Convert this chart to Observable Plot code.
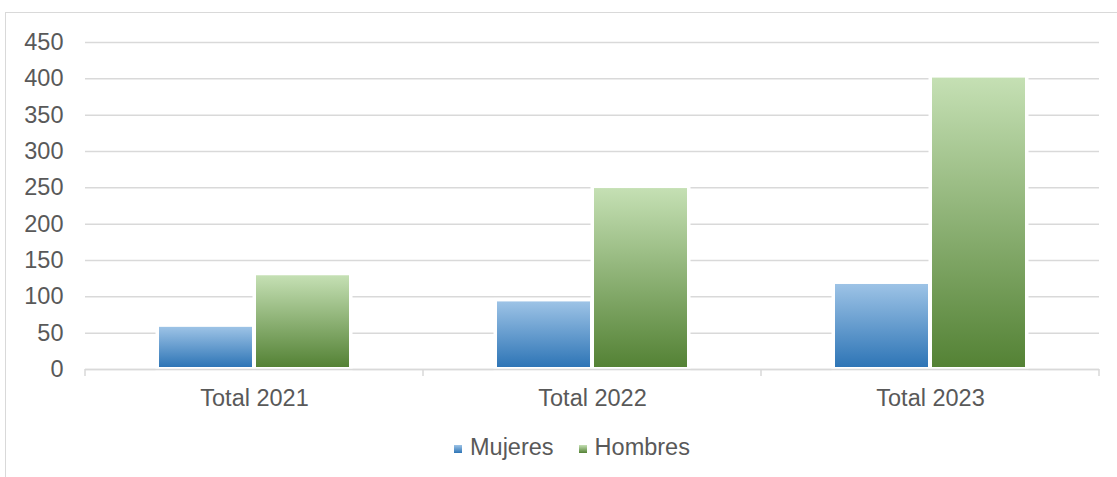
<!DOCTYPE html>
<html>
<head>
<meta charset="utf-8">
<script src="https://cdn.jsdelivr.net/npm/d3@7"></script>
<script src="https://cdn.jsdelivr.net/npm/@observablehq/plot@0.6"></script>
<style>
  html, body { margin: 0; padding: 0; background: #fff; }
  body { width: 1117px; height: 477px; overflow: hidden; position: relative; font-family: "Liberation Sans", Arial, sans-serif; }
  #chart { position: absolute; left: 0; top: 0; }
  #frame { position: absolute; left: 5px; top: 12px; width: 1130px; height: 490px; border: 1.5px solid #d9d9d9; box-sizing: border-box; pointer-events: none; }
  #legend { position: absolute; left: 454px; top: 434px; display: flex; align-items: center; font-size: 23.5px; color: #595959; }
  .item { display: flex; align-items: center; }
  .sw { width: 8px; height: 8px; margin-right: 8px; margin-top: 2px; }
  .item + .item { margin-left: 25px; }
</style>
</head>
<body>
<div id="chart"></div>
<div id="legend"></div>
<div id="frame"></div>
<script>
const categories = ["Total 2021", "Total 2022", "Total 2023"];
const series = ["Mujeres", "Hombres"];
const mujeres = [58, 93, 117];
const hombres = [129, 249, 401];
const yTicks = [0, 50, 100, 150, 200, 250, 300, 350, 400, 450];

const colors = {
  Mujeres: ["#9dc3e6", "#2e75b6"],
  Hombres: ["#c5e0b4", "#548235"]
};
const gradId = {Mujeres: "gMujeres", Hombres: "gHombres"};

const data = [];
categories.forEach((c, i) => {
  data.push({year: c, series: "Mujeres", value: mujeres[i]});
  data.push({year: c, series: "Hombres", value: hombres[i]});
});

const barOpts = s => ({
  fx: "year", x: "series", y: "value",
  fill: `url(#${gradId[s]})`,
  stroke: "white", strokeWidth: 7, paintOrder: "stroke",
  insetBottom: 2
});

const plot = Plot.plot({
  width: 1117,
  height: 420,
  marginLeft: 84,
  marginRight: 17,
  marginTop: 42,
  marginBottom: 51,
  style: {background: "transparent", color: "#595959", fontFamily: "'Liberation Sans', Arial, sans-serif", fontSize: "23.5px"},
  fx: {domain: categories, padding: 0, label: null},
  x: {domain: series, paddingInner: 0.0412, paddingOuter: 0.75, axis: null},
  y: {domain: [0, 450], ticks: yTicks, label: null},
  marks: [
    Plot.gridY(yTicks, {stroke: "#d9d9d9", strokeOpacity: 1, strokeWidth: 1.5}),
    Plot.axisY(yTicks, {tickSize: 0, tickPadding: 22, fontSize: 23.5, fill: "#595959", label: null}),
    Plot.axisFx({anchor: "bottom", tickSize: 0, tickPadding: 20, fontSize: 23.5, fill: "#595959", label: null}),
    Plot.barY(data.filter(d => d.series === "Mujeres"), barOpts("Mujeres")),
    Plot.barY(data.filter(d => d.series === "Hombres"), barOpts("Hombres")),
    Plot.ruleY([0], {stroke: "#d9d9d9", strokeWidth: 1.5})
  ]
});

// gradients
const svg = d3.select(plot);
const defs = svg.insert("defs", ":first-child");
series.forEach(s => {
  const g = defs.append("linearGradient").attr("id", gradId[s])
    .attr("x1", 0).attr("y1", 0).attr("x2", 0).attr("y2", 1);
  g.append("stop").attr("offset", "0%").attr("stop-color", colors[s][0]);
  g.append("stop").attr("offset", "100%").attr("stop-color", colors[s][1]);
});

// category boundary ticks on the x axis
const fx = plot.scale("fx");
const y0 = plot.scale("y").apply(0);
const bounds = categories.map(c => fx.apply(c));
bounds.push(fx.apply(categories[categories.length - 1]) + fx.bandwidth);
svg.append("g").selectAll("line").data(bounds).join("line")
  .attr("x1", d => d).attr("x2", d => d)
  .attr("y1", y0).attr("y2", y0 + 7)
  .attr("stroke", "#d9d9d9").attr("stroke-width", 1.5);

document.getElementById("chart").appendChild(plot);

// legend
const legend = d3.select("#legend");
series.forEach(s => {
  const it = legend.append("div").attr("class", "item");
  it.append("div").attr("class", "sw")
    .style("background", `linear-gradient(${colors[s][0]}, ${colors[s][1]})`);
  it.append("span").text(s);
});
</script>
</body>
</html>
